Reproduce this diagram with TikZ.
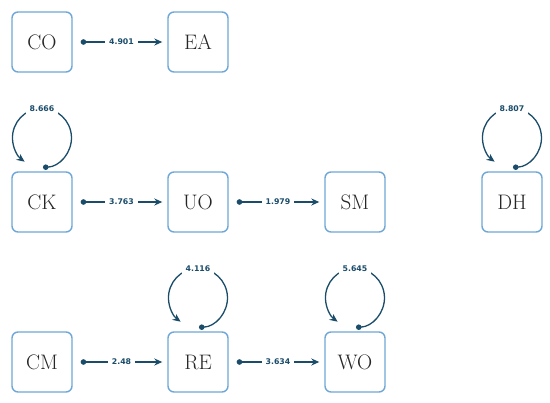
\documentclass[tikz,border=0pt]{standalone}
\usepackage{fontspec}
\newfontfamily\lblfont{DejaVu Sans}
\usetikzlibrary{arrows.meta}
\definecolor{boxc}{HTML}{6FA8D6}
\definecolor{arrc}{HTML}{1B4D6B}
\tikzset{
 var/.style={draw=boxc, line width=1.4pt, rounded corners=6pt, minimum size=60pt, inner sep=0pt, font=\fontsize{21}{21}\selectfont, text=black!85},
 conn/.style={draw=arrc, line width=1.3pt, {Circle[length=5.5pt]}-{Stealth[length=8pt,width=7pt]}},
 lbl/.style={fill=white, text=arrc, font=\lblfont\bfseries\fontsize{7.8}{8}\selectfont, inner xsep=4pt, inner ysep=2pt},
}
\begin{document}
\begin{tikzpicture}[x=1pt,y=-1pt]
\useasboundingbox[fill=white] (0,0) rectangle (550,403);
\node[var] (co) at (42,42) {CO};
\node[var] (ea) at (198,42) {EA};
\node[var] (ck) at (42,202) {CK};
\node[var] (uo) at (198,202) {UO};
\node[var] (sm) at (355,202) {SM};
\node[var] (dh) at (512,202) {DH};
\node[var] (cm) at (42,362) {CM};
\node[var] (re) at (198,362) {RE};
\node[var] (wo) at (355,362) {WO};

\draw[conn] ([xshift=8pt]co.east) -- node[lbl]{4.901} ([xshift=-5pt]ea.west);
\draw[conn] ([xshift=8pt]ck.east) -- node[lbl]{3.763} ([xshift=-5pt]uo.west);
\draw[conn] ([xshift=8pt]uo.east) -- node[lbl]{1.979} ([xshift=-5pt]sm.west);
\draw[conn] ([xshift=8pt]cm.east) -- node[lbl]{2.48} ([xshift=-5pt]re.west);
\draw[conn] ([xshift=8pt]re.east) -- node[lbl]{3.634} ([xshift=-5pt]wo.west);

\foreach \n/\v in {ck/8.666, dh/8.807, re/4.116, wo/5.645}{
  \draw[conn] ([xshift=1pt,yshift=4pt]\n.north) arc[start angle=88, end angle=-234, radius=29.5];
  \node[lbl] at ([yshift=93pt]\n.center) {\v};
}
\end{tikzpicture}
\end{document}
